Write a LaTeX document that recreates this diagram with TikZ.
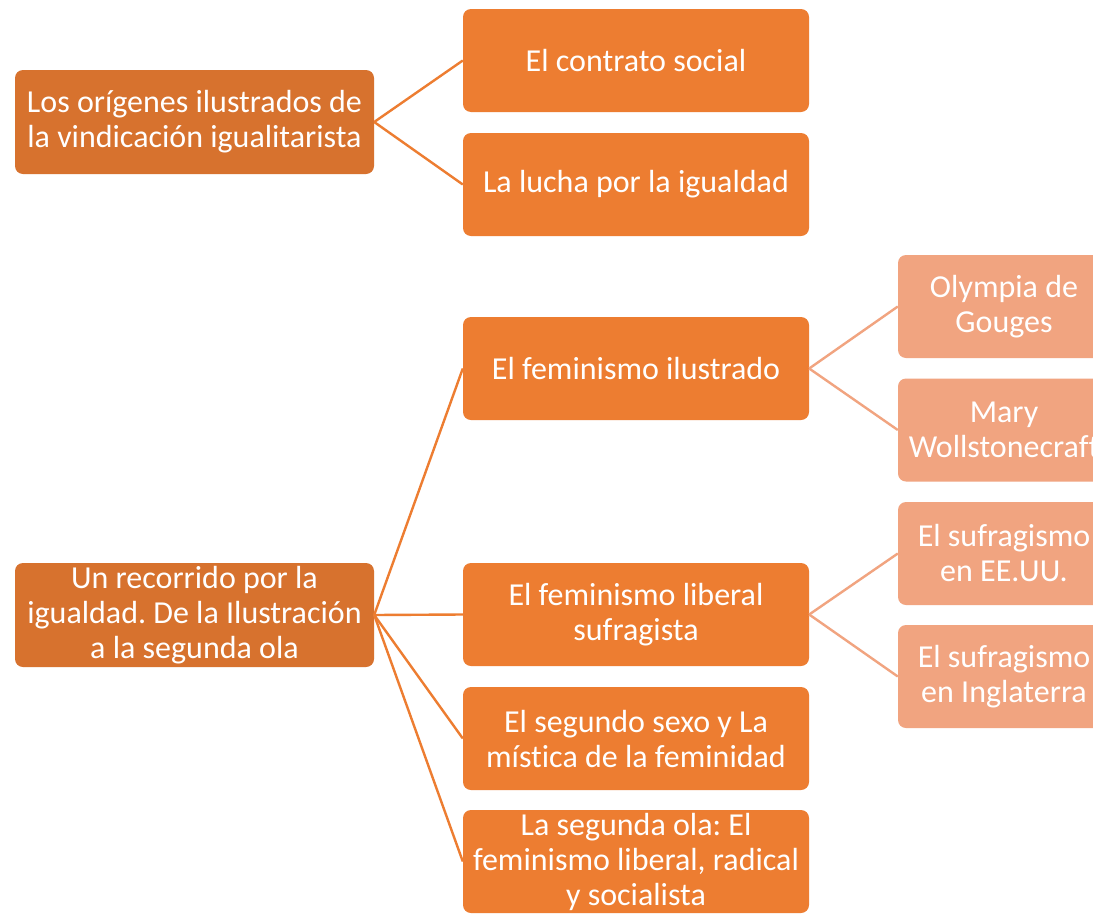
\documentclass[tikz,border=0pt]{standalone}
\usepackage{fontspec}
\setmainfont{Carlito}[Ligatures=NoCommon]
\usepackage{tikz}
\frenchspacing
\definecolor{rootor}{RGB}{215,114,46}
\definecolor{midor}{RGB}{237,125,49}
\definecolor{lightor}{RGB}{241,164,128}

\begin{document}
\begin{tikzpicture}[x=1pt, y=-1pt,
    box/.style={rounded corners=8pt, inner sep=0pt, align=center, text=white,
        font=\fontsize{32}{35}\selectfont},
    rootbox/.style={box, fill=rootor, minimum width=359pt, minimum height=104pt},
    midbox/.style={box, fill=midor, minimum width=346pt, minimum height=103pt},
    leafbox/.style={box, fill=lightor, minimum width=212pt, minimum height=103pt},
    lnk/.style={line width=2.4pt, midor},
    leaflnk/.style={line width=2.4pt, lightor}
]
\clip (0,0) rectangle (1093,916);
\fill[white] (0,0) rectangle (1093,916);

\node[rootbox] (orig) at (194.5,122) {Los orígenes ilustrados de\\la vindicación igualitarista};
\node[midbox] (contrato) at (636,60.5) {El contrato social};
\node[midbox] (lucha) at (636,184.5) {La lucha por la igualdad};

\node[rootbox] (recorrido) at (194.5,615) {Un recorrido por la\\igualdad. De la Ilustración\\a la segunda ola};
\node[midbox] (ilustrado) at (636,368.5) {El feminismo ilustrado};
\node[midbox] (liberal) at (636,614.5) {El feminismo liberal\\sufragista};
\node[midbox] (sexo) at (636,738.5) {El segundo sexo y La\\mística de la feminidad};
\node[midbox] (ola) at (636,861.5) {La segunda ola: El\\feminismo liberal, radical\\y socialista};

\node[leafbox] (olympia) at (1004,306.5) {Olympia de\\Gouges};
\node[leafbox] (mary) at (1004,430) {Mary\\Wollstonecraft};
\node[leafbox] (eeuu) at (1004,553.5) {El sufragismo\\en EE.UU.};
\node[leafbox] (ingl) at (1004,676.5) {El sufragismo\\en Inglaterra};

\draw[lnk] (orig.east) -- (contrato.west);
\draw[lnk] (orig.east) -- (lucha.west);
\draw[lnk] (recorrido.east) -- (ilustrado.west);
\draw[lnk] (recorrido.east) -- (liberal.west);
\draw[lnk] (recorrido.east) -- (sexo.west);
\draw[lnk] (recorrido.east) -- (ola.west);
\draw[leaflnk] (ilustrado.east) -- (olympia.west);
\draw[leaflnk] (ilustrado.east) -- (mary.west);
\draw[leaflnk] (liberal.east) -- (eeuu.west);
\draw[leaflnk] (liberal.east) -- (ingl.west);
\end{tikzpicture}
\end{document}
